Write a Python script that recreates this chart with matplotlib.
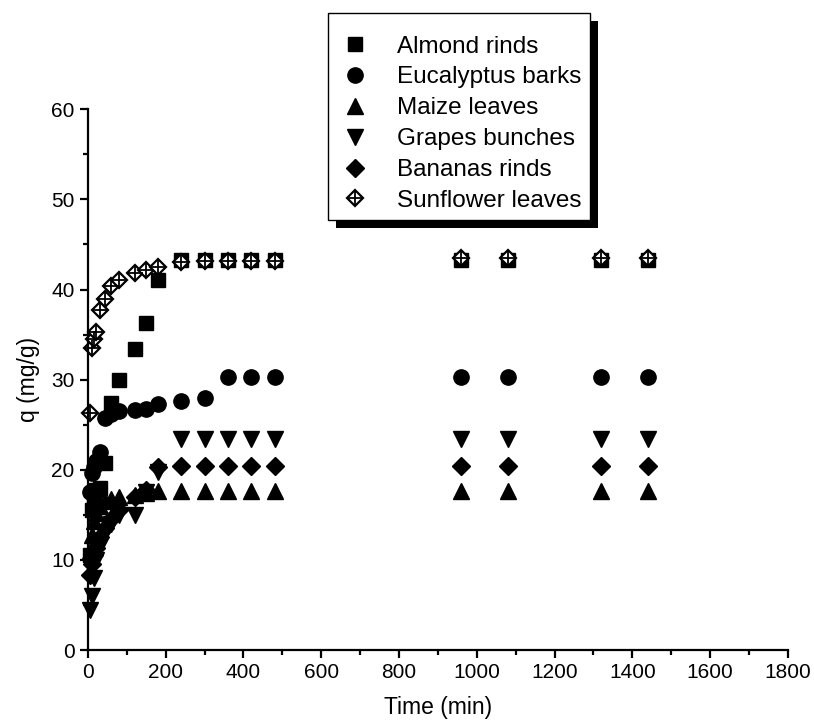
import matplotlib.pyplot as plt
from matplotlib.legend_handler import HandlerTuple
from matplotlib.patches import Rectangle

plt.rcParams["font.family"] = ["Liberation Sans", "DejaVu Sans"]

# contact time (min)
times = [5, 10, 15, 20, 30, 45, 60, 80, 120, 150, 180, 240, 300, 360, 420, 480,
         960, 1080, 1320, 1440]

almond = [10.5, 15.5, 16.5, 17.8, 18.0, 20.7, 27.4, 30.0, 33.4, 36.3, 41.1, 43.3,
          43.3, 43.3, 43.3, 43.3, 43.3, 43.3, 43.3, 43.3]
eucalyptus = [17.5, 19.6, 20.3, 21.0, 22.0, 25.8, 26.2, 26.5, 26.6, 26.8, 27.3, 27.6,
              28.0, 30.3, 30.3, 30.3, 30.3, 30.3, 30.3, 30.3]
maize = [11.0, 12.8, 14.3, 15.2, 16.0, 16.5, 16.8, 17.0, 17.2, 17.4, 17.6, 17.6,
         17.6, 17.6, 17.6, 17.6, 17.6, 17.6, 17.6, 17.6]
grapes = [4.5, 6.0, 8.0, 10.0, 11.5, 13.0, 14.0, 15.0, 15.0, 17.5, 19.8, 23.4,
          23.4, 23.4, 23.4, 23.4, 23.4, 23.4, 23.4, 23.4]
bananas = [8.3, 9.5, 10.5, 11.3, 12.5, 13.5, 14.5, 15.5, 17.0, 17.8, 20.3, 20.4,
           20.4, 20.4, 20.4, 20.4, 20.4, 20.4, 20.4, 20.4]
sunflower = [26.3, 33.5, 34.5, 35.3, 37.7, 39.0, 40.4, 41.0, 41.8, 42.2, 42.5, 43.0,
             43.2, 43.2, 43.2, 43.2, 43.5, 43.5, 43.5, 43.5]

labels = ["Almond rinds", "Eucalyptus barks", "Maize leaves", "Grapes bunches",
          "Bananas rinds", "Sunflower leaves"]

W, H = 814, 728
fig = plt.figure(figsize=(W / 100, H / 100), dpi=100)
ax = fig.add_axes([0.108, 0.107, 0.860, 0.743])

common = dict(linestyle="none", color="black", clip_on=False)
h_alm, = ax.plot(times, almond, marker="s", markersize=9.5, **common)
h_euc, = ax.plot(times, eucalyptus, marker="o", markersize=11, **common)
h_mai, = ax.plot(times, maize, marker="^", markersize=12, **common)
h_gra, = ax.plot(times, grapes, marker="v", markersize=12, **common)
h_ban, = ax.plot(times, bananas, marker="D", markersize=9, **common)
h_sun1, = ax.plot(times, sunflower, marker="D", markersize=8.5, markerfacecolor="white",
                  markeredgecolor="black", markeredgewidth=1.6, linestyle="none",
                  clip_on=False)
h_sun2, = ax.plot(times, sunflower, marker="+", markersize=12, markeredgewidth=1.3,
                  color="black", linestyle="none", clip_on=False)

ax.set_xlim(0, 1800)
ax.set_ylim(0, 60)
ax.set_xticks(range(0, 1801, 200))
ax.set_xticks(range(100, 1800, 200), minor=True)
ax.set_yticks(range(0, 61, 10))
ax.set_yticks(range(5, 60, 10), minor=True)
ax.spines["top"].set_visible(False)
ax.spines["right"].set_visible(False)
for s in ("left", "bottom"):
    ax.spines[s].set_linewidth(1.6)
ax.tick_params(which="major", direction="out", length=6, width=1.6, labelsize=15)
ax.tick_params(which="minor", direction="out", length=3.5, width=1.6)
ax.set_xlabel("Time (min)", fontsize=16.5, labelpad=10)
ax.set_ylabel("q (mg/g)", fontsize=16.5, labelpad=8)

# legend box drawn by hand: white frame plus a hard black drop shadow
box_x0, box_y0, box_x1, box_y1 = 328, 13, 590, 220
fig.patches.append(Rectangle(((box_x0 + 8) / W, 1 - (box_y1 + 8) / H),
                             (box_x1 - box_x0) / W, (box_y1 - box_y0) / H,
                             transform=fig.transFigure, facecolor="black",
                             edgecolor="none", zorder=8))
fig.patches.append(Rectangle((box_x0 / W, 1 - box_y1 / H),
                             (box_x1 - box_x0) / W, (box_y1 - box_y0) / H,
                             transform=fig.transFigure, facecolor="white",
                             edgecolor="black", linewidth=1.0, zorder=9))

leg = fig.legend([h_alm, h_euc, h_mai, h_gra, h_ban, (h_sun1, h_sun2)], labels,
                 handler_map={tuple: HandlerTuple(ndivide=1)},
                 loc="upper left", bbox_to_anchor=(338 / W, 1 - 35.5 / H),
                 fontsize=17.5, frameon=False, borderpad=0,
                 labelspacing=0.365, handlelength=1.4, handletextpad=1.03,
                 borderaxespad=0)
leg.set_zorder(10)

fig.savefig("out.png", dpi=100)
